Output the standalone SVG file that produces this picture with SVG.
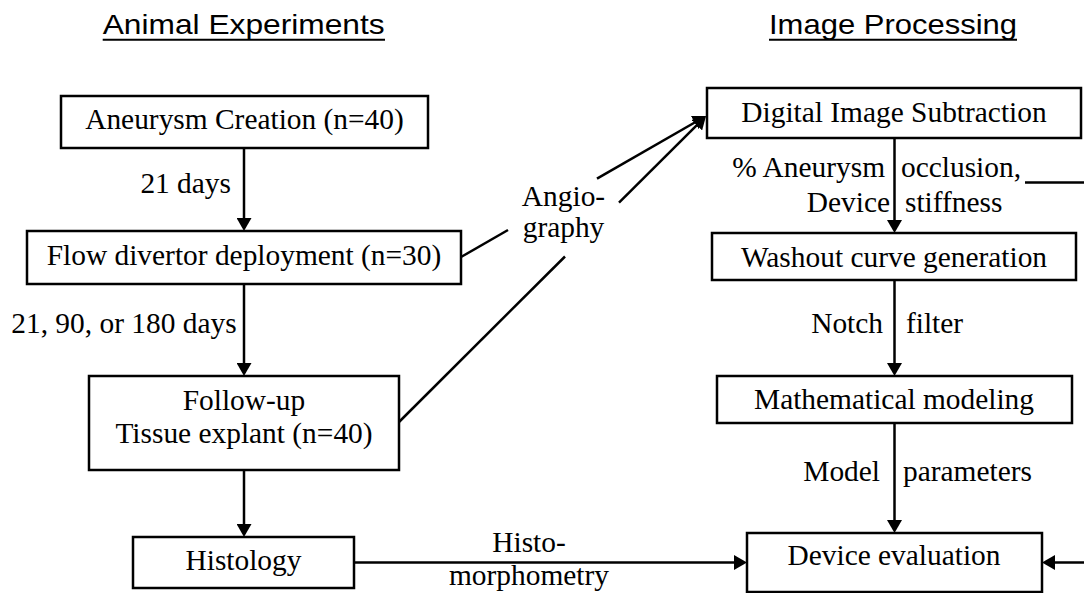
<svg xmlns="http://www.w3.org/2000/svg" width="1084" height="593" viewBox="0 0 1084 593">
<style>
.box{fill:#fff;stroke:#000;stroke-width:2.5}
.t{font-family:"Liberation Serif","Times New Roman",serif;font-size:29.4px;fill:#000}
.m{text-anchor:middle}
.e{text-anchor:end}
.h{font-family:"Liberation Sans",Arial,sans-serif;font-size:28.5px;fill:#000}
.ln{fill:none;stroke:#000;stroke-width:2.5}
.ul{stroke:#000;stroke-width:2}
</style>
<defs>
<marker id="arr" markerUnits="userSpaceOnUse" markerWidth="14" markerHeight="15" refX="10" refY="7.5" orient="auto" viewBox="0 0 14 15">
<path d="M0,0 L13,7.5 L0,15 Z" fill="#000"/>
</marker>
</defs>
<rect width="1084" height="593" fill="#fff"/>
<g id="titles">
<text class="h" x="102.7" y="34" textLength="282" lengthAdjust="spacingAndGlyphs">Animal Experiments</text>
<line class="ul" x1="102.7" y1="39.8" x2="385" y2="39.8"/>
<text class="h" x="769" y="34" textLength="248" lengthAdjust="spacingAndGlyphs">Image Processing</text>
<line class="ul" x1="769" y1="39.8" x2="1017" y2="39.8"/>
</g>
<g id="connectors">
<line class="ln" x1="244" y1="148" x2="244" y2="228" marker-end="url(#arr)"/>
<line class="ln" x1="244" y1="284" x2="244" y2="373" marker-end="url(#arr)"/>
<line class="ln" x1="244" y1="470" x2="244" y2="534" marker-end="url(#arr)"/>
<line class="ln" x1="894.5" y1="138" x2="894.5" y2="230" marker-end="url(#arr)"/>
<line class="ln" x1="894.5" y1="280" x2="894.5" y2="373" marker-end="url(#arr)"/>
<line class="ln" x1="894.5" y1="423" x2="894.5" y2="530" marker-end="url(#arr)"/>
<line class="ln" x1="354" y1="562.5" x2="744" y2="562.5" marker-end="url(#arr)"/>
<path class="ln" d="M1025,182.5 H1100 V562.5 H1045" marker-end="url(#arr)"/>
<line class="ln" x1="461" y1="257" x2="508" y2="230"/>
<line class="ln" x1="597" y1="178.7" x2="703.4" y2="117.5" marker-end="url(#arr)"/>
<line class="ln" x1="399" y1="422" x2="565" y2="256.5"/>
<line class="ln" x1="619" y1="202.7" x2="703.9" y2="118.1" marker-end="url(#arr)"/>
</g>
<g id="edge-labels">
<text class="t e" x="231" y="193">21 days</text>
<text class="t e" x="236.6" y="333">21, 90, or 180 days</text>
<text class="t m" x="563.5" y="206">Angio-</text>
<text class="t m" x="563.5" y="237">graphy</text>
<text class="t e" x="885" y="177">% Aneurysm</text>
<text class="t" x="901" y="177">occlusion,</text>
<text class="t e" x="890" y="211.7">Device</text>
<text class="t" x="905" y="211.7">stiffness</text>
<text class="t e" x="883" y="333">Notch</text>
<text class="t" x="906" y="333">filter</text>
<text class="t e" x="880" y="481">Model</text>
<text class="t" x="903" y="481">parameters</text>
<text class="t m" x="529" y="552">Histo-</text>
<text class="t m" x="529" y="585">morphometry</text>
</g>
<g id="aneurysm-creation">
<rect class="box" x="61" y="96" width="367" height="52"/>
<text class="t m" x="244.5" y="129">Aneurysm Creation (n=40)</text>
</g>
<g id="flow-divertor">
<rect class="box" x="27" y="231" width="434" height="53"/>
<text class="t m" x="244" y="265">Flow divertor deployment (n=30)</text>
</g>
<g id="follow-up">
<rect class="box" x="89" y="376" width="310" height="94"/>
<text class="t m" x="244" y="410">Follow-up</text>
<text class="t m" x="244" y="443">Tissue explant (n=40)</text>
</g>
<g id="histology">
<rect class="box" x="133" y="537" width="221" height="51"/>
<text class="t m" x="243.5" y="570">Histology</text>
</g>
<g id="digital-image-subtraction">
<rect class="box" x="707" y="88" width="374" height="50"/>
<text class="t m" x="894" y="122">Digital Image Subtraction</text>
</g>
<g id="washout">
<rect class="box" x="712" y="233" width="364" height="47"/>
<text class="t m" x="894" y="267">Washout curve generation</text>
</g>
<g id="math-modeling">
<rect class="box" x="717" y="376" width="355" height="47"/>
<text class="t m" x="894" y="409">Mathematical modeling</text>
</g>
<g id="device-evaluation">
<rect class="box" x="747" y="533" width="295" height="59"/>
<text class="t m" x="894" y="565">Device evaluation</text>
</g>
</svg>
